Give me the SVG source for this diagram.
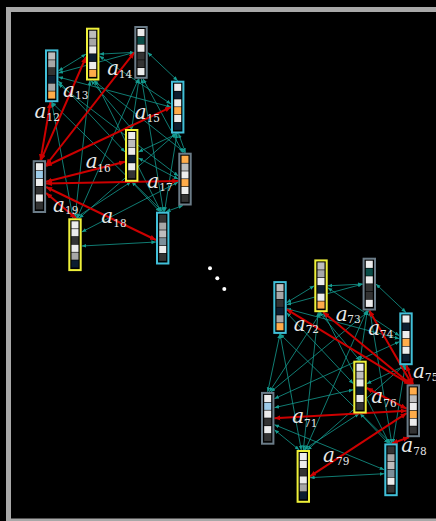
<svg xmlns="http://www.w3.org/2000/svg" xmlns:xlink="http://www.w3.org/1999/xlink" width="436" height="521" viewBox="0 0 436 521">
<style>
.bd{fill:#000;stroke-width:2}
.cy{stroke:#41bfd8}.yl{stroke:#eef03a}.gy{stroke:#6b7c88}
.W{fill:#ececec}.G1{fill:#bdbdbd}.G2{fill:#a7a7a7}.D{fill:#333333}.N{fill:#0c1d30}.O{fill:#ffac4a}.T{fill:#0a4d48}.LB{fill:#9ccbe9}.S{fill:#7b8f9a}
.te{stroke:#149a8f;stroke-width:0.8;fill:none;marker-start:url(#at);marker-end:url(#at)}
.re{stroke:#cc0000;stroke-width:2;fill:none;marker-start:url(#ar);marker-end:url(#ar)}
.lb{font-family:"DejaVu Serif","Liberation Serif",serif;fill:#e8e8e8}
.a{font-style:italic;font-size:20px}
.s{font-size:10.5px}
</style>
<defs>
<marker id="at" markerUnits="userSpaceOnUse" markerWidth="6" markerHeight="5" refX="4.6" refY="1.9" orient="auto-start-reverse"><path d="M0,0 L4.6,1.9 L0,3.8z" fill="#149a8f"/></marker>
<marker id="ar" markerUnits="userSpaceOnUse" markerWidth="8" markerHeight="7" refX="6" refY="2.6" orient="auto-start-reverse"><path d="M0,0 L6,2.6 L0,5.2z" fill="#cc0000"/></marker>
<g id="t1"><rect class="bd gy" x="1" y="1" width="11.4" height="50.8"/><rect class="W" x="3.2" y="3" width="7" height="7.2"/><rect class="LB" x="3.2" y="10.8" width="7" height="7.2"/><rect class="W" x="3.2" y="18.6" width="7" height="7.2"/><rect class="D" x="3.2" y="26.4" width="7" height="7.2"/><rect class="W" x="3.2" y="34.2" width="7" height="7.2"/><rect class="D" x="3.2" y="42" width="7" height="7.2"/></g>
<g id="t2"><rect class="bd cy" x="1" y="1" width="11.4" height="50.8"/><rect class="G1" x="3.2" y="3" width="7" height="7.2"/><rect class="G2" x="3.2" y="10.8" width="7" height="7.2"/><rect class="D" x="3.2" y="18.6" width="7" height="7.2"/><rect class="N" x="3.2" y="26.4" width="7" height="7.2"/><rect class="G2" x="3.2" y="34.2" width="7" height="7.2"/><rect class="O" x="3.2" y="42" width="7" height="7.2"/></g>
<g id="t3"><rect class="bd yl" x="1" y="1" width="11.4" height="50.8"/><rect class="G1" x="3.2" y="3" width="7" height="7.2"/><rect class="G2" x="3.2" y="10.8" width="7" height="7.2"/><rect class="W" x="3.2" y="18.6" width="7" height="7.2"/><rect class="N" x="3.2" y="26.4" width="7" height="7.2"/><rect class="W" x="3.2" y="34.2" width="7" height="7.2"/><rect class="O" x="3.2" y="42" width="7" height="7.2"/></g>
<g id="t4"><rect class="bd gy" x="1" y="1" width="11.4" height="50.8"/><rect class="W" x="3.2" y="3" width="7" height="7.2"/><rect class="T" x="3.2" y="10.8" width="7" height="7.2"/><rect class="W" x="3.2" y="18.6" width="7" height="7.2"/><rect class="D" x="3.2" y="26.4" width="7" height="7.2"/><rect class="D" x="3.2" y="34.2" width="7" height="7.2"/><rect class="W" x="3.2" y="42" width="7" height="7.2"/></g>
<g id="t5"><rect class="bd cy" x="1" y="1" width="11.4" height="50.8"/><rect class="W" x="3.2" y="3" width="7" height="7.2"/><rect class="N" x="3.2" y="10.8" width="7" height="7.2"/><rect class="W" x="3.2" y="18.6" width="7" height="7.2"/><rect class="O" x="3.2" y="26.4" width="7" height="7.2"/><rect class="W" x="3.2" y="34.2" width="7" height="7.2"/><rect class="N" x="3.2" y="42" width="7" height="7.2"/></g>
<g id="t6"><rect class="bd yl" x="1" y="1" width="11.4" height="50.8"/><rect class="W" x="3.2" y="3" width="7" height="7.2"/><rect class="G1" x="3.2" y="10.8" width="7" height="7.2"/><rect class="W" x="3.2" y="18.6" width="7" height="7.2"/><rect class="N" x="3.2" y="26.4" width="7" height="7.2"/><rect class="W" x="3.2" y="34.2" width="7" height="7.2"/><rect class="D" x="3.2" y="42" width="7" height="7.2"/></g>
<g id="t7"><rect class="bd gy" x="1" y="1" width="11.4" height="50.8"/><rect class="O" x="3.2" y="3" width="7" height="7.2"/><rect class="G1" x="3.2" y="10.8" width="7" height="7.2"/><rect class="W" x="3.2" y="18.6" width="7" height="7.2"/><rect class="O" x="3.2" y="26.4" width="7" height="7.2"/><rect class="W" x="3.2" y="34.2" width="7" height="7.2"/><rect class="D" x="3.2" y="42" width="7" height="7.2"/></g>
<g id="t8"><rect class="bd cy" x="1" y="1" width="11.4" height="50.8"/><rect class="D" x="3.2" y="3" width="7" height="7.2"/><rect class="G2" x="3.2" y="10.8" width="7" height="7.2"/><rect class="G1" x="3.2" y="18.6" width="7" height="7.2"/><rect class="S" x="3.2" y="26.4" width="7" height="7.2"/><rect class="W" x="3.2" y="34.2" width="7" height="7.2"/><rect class="D" x="3.2" y="42" width="7" height="7.2"/></g>
<g id="t9"><rect class="bd yl" x="1" y="1" width="11.4" height="50.8"/><rect class="W" x="3.2" y="3" width="7" height="7.2"/><rect class="W" x="3.2" y="10.8" width="7" height="7.2"/><rect class="D" x="3.2" y="18.6" width="7" height="7.2"/><rect class="W" x="3.2" y="26.4" width="7" height="7.2"/><rect class="G2" x="3.2" y="34.2" width="7" height="7.2"/><rect class="N" x="3.2" y="42" width="7" height="7.2"/></g>
</defs>
<rect x="0" y="0" width="436" height="521" fill="#000"/>
<rect x="8.5" y="9.5" width="440" height="511.5" fill="#000" stroke="#a8a8a8" stroke-width="5"/>
<g id="connectors">
<g id="cluster1-edges">
<path class="te" d="M58.4,71 L86,54.1"/>
<path class="te" d="M58.4,73 L134.3,52.4"/>
<path class="te" d="M58.4,77 L171,107.1"/>
<path class="te" d="M58.4,81 L125,152"/>
<path class="te" d="M58.4,84 L178.3,176"/>
<path class="te" d="M51.7,102.2 L162.7,211.7"/>
<path class="te" d="M51.7,102.2 L73,218.3"/>
<path class="te" d="M99.4,54.1 L134.3,52.4"/>
<path class="te" d="M99.4,56 L171,104"/>
<path class="te" d="M91,80.5 L131.7,129"/>
<path class="te" d="M93.5,80.5 L185,152.7"/>
<path class="te" d="M95,80.5 L161,211.7"/>
<path class="te" d="M90,80.5 L75,218.3"/>
<path class="te" d="M147.7,52.4 L177.7,80.7"/>
<path class="te" d="M139,78.8 L131.7,129"/>
<path class="te" d="M143,78.8 L183,152.7"/>
<path class="te" d="M141.5,78.8 L163.5,211.7"/>
<path class="te" d="M138.5,78.8 L77,218.3"/>
<path class="te" d="M177.7,133.5 L138.4,152"/>
<path class="te" d="M178.5,133.5 L185.5,152.7"/>
<path class="te" d="M177,133.5 L164.5,211.7"/>
<path class="te" d="M176,133.5 L79,218.3"/>
<path class="te" d="M138.4,158 L178.3,179.1"/>
<path class="te" d="M131.7,181.8 L160,211.7"/>
<path class="te" d="M131,181.8 L75,218.3"/>
<path class="te" d="M183,205.5 L166,211.7"/>
<path class="te" d="M178.3,182 L81.7,232"/>
<path class="te" d="M156,242 L81.7,246"/>
<path class="re" d="M40.5,160.2 L50.5,102.2"/>
<path class="re" d="M41,160.2 L86,57"/>
<path class="re" d="M46.1,165 L134.3,52.4"/>
<path class="re" d="M46.1,166 L171,107.1"/>
<path class="re" d="M46.1,181.7 L125,161.7"/>
<path class="re" d="M46.1,183.5 L178.3,181"/>
<path class="re" d="M46.1,187 L156,240"/>
<path class="re" d="M46.1,193 L76,218.3"/>
</g>
<g id="cluster2-edges" transform="translate(228.3,231.7)">
<path class="te" d="M58.4,71 L86,54.1"/>
<path class="te" d="M58.4,73 L134.3,52.4"/>
<path class="te" d="M58.4,77 L171,107.1"/>
<path class="te" d="M58.4,81 L125,152"/>
<path class="te" d="M51.7,102.2 L162.7,211.7"/>
<path class="te" d="M51.7,102.2 L73,218.3"/>
<path class="te" d="M99.4,54.1 L134.3,52.4"/>
<path class="te" d="M99.4,56 L171,104"/>
<path class="te" d="M91,80.5 L131.7,129"/>
<path class="te" d="M95,80.5 L161,211.7"/>
<path class="te" d="M90,80.5 L75,218.3"/>
<path class="te" d="M147.7,52.4 L177.7,80.7"/>
<path class="te" d="M139,78.8 L131.7,129"/>
<path class="te" d="M141.5,78.8 L163.5,211.7"/>
<path class="te" d="M138.5,78.8 L77,218.3"/>
<path class="te" d="M177.7,133.5 L138.4,152"/>
<path class="te" d="M177,133.5 L164.5,211.7"/>
<path class="te" d="M176,133.5 L79,218.3"/>
<path class="te" d="M131.7,181.8 L160,211.7"/>
<path class="te" d="M131,181.8 L75,218.3"/>
<path class="te" d="M156,242 L81.7,246"/>
<path class="te" d="M39.4,160.2 L51.7,102.2"/>
<path class="te" d="M41,160.2 L92.7,80.5"/>
<path class="te" d="M42.5,160.2 L141,78.8"/>
<path class="te" d="M46.1,167 L171,110"/>
<path class="te" d="M46.1,176 L125,158"/>
<path class="te" d="M46.1,193 L156,238.1"/>
<path class="te" d="M46.1,198 L71,218.3"/>
<path class="re" d="M178.3,179.1 L46.1,186.6"/>
<path class="re" d="M181.7,152.7 L58.4,77.6"/>
<path class="re" d="M182.7,152.7 L95,80.6"/>
<path class="re" d="M183.7,152.7 L141,78.8"/>
<path class="re" d="M184.7,152.7 L178.2,133.5"/>
<path class="re" d="M178.3,177 L138.4,156.3"/>
<path class="re" d="M180.7,205.5 L163.7,211.7"/>
<path class="re" d="M178.3,181.5 L81.7,244.7"/>
</g>
</g>
<g id="cluster1">
<g id="c1-n1" transform="translate(32.7,160.2)"><use xlink:href="#t1"/></g>
<g id="c1-n2" transform="translate(45,49.4)"><use xlink:href="#t2"/></g>
<g id="c1-n3" transform="translate(86,27.7)"><use xlink:href="#t3"/></g>
<g id="c1-n4" transform="translate(134.3,26)"><use xlink:href="#t4"/></g>
<g id="c1-n5" transform="translate(171,80.7)"><use xlink:href="#t5"/></g>
<g id="c1-n6" transform="translate(125,129)"><use xlink:href="#t6"/></g>
<g id="c1-n7" transform="translate(178.3,152.7)"><use xlink:href="#t7"/></g>
<g id="c1-n8" transform="translate(156,211.7)"><use xlink:href="#t8"/></g>
<g id="c1-n9" transform="translate(68.3,218.3)"><use xlink:href="#t9"/></g>
</g>
<g id="cluster2" transform="translate(228.3,231.7)">
<g id="c2-n1" transform="translate(32.7,160.2)"><use xlink:href="#t1"/></g>
<g id="c2-n2" transform="translate(45,49.4)"><use xlink:href="#t2"/></g>
<g id="c2-n3" transform="translate(86,27.7)"><use xlink:href="#t3"/></g>
<g id="c2-n4" transform="translate(134.3,26)"><use xlink:href="#t4"/></g>
<g id="c2-n5" transform="translate(171,80.7)"><use xlink:href="#t5"/></g>
<g id="c2-n6" transform="translate(125,129)"><use xlink:href="#t6"/></g>
<g id="c2-n7" transform="translate(178.3,152.7)"><use xlink:href="#t7"/></g>
<g id="c2-n8" transform="translate(156,211.7)"><use xlink:href="#t8"/></g>
<g id="c2-n9" transform="translate(68.3,218.3)"><use xlink:href="#t9"/></g>
</g>
<g id="labels" class="lb">
<text><tspan class="a" x="34.5" y="118">a</tspan><tspan class="s" x="46.5" y="120.5">12</tspan></text>
<text><tspan class="a" x="63" y="96.7">a</tspan><tspan class="s" x="75" y="99.3">13</tspan></text>
<text><tspan class="a" x="107.3" y="75">a</tspan><tspan class="s" x="118.8" y="78.3">14</tspan></text>
<text><tspan class="a" x="134.7" y="119.3">a</tspan><tspan class="s" x="146.7" y="121.7">15</tspan></text>
<text><tspan class="a" x="85.7" y="168.3">a</tspan><tspan class="s" x="97.3" y="171.7">16</tspan></text>
<text><tspan class="a" x="147.3" y="187.7">a</tspan><tspan class="s" x="159.3" y="190.7">17</tspan></text>
<text><tspan class="a" x="101.3" y="222.7">a</tspan><tspan class="s" x="113.3" y="226.7">18</tspan></text>
<text><tspan class="a" x="53" y="211.7">a</tspan><tspan class="s" x="65" y="214.3">19</tspan></text>
<text><tspan class="a" x="292.3" y="423.3">a</tspan><tspan class="s" x="304" y="426.7">71</tspan></text>
<text><tspan class="a" x="293.7" y="330.7">a</tspan><tspan class="s" x="305.7" y="333.3">72</tspan></text>
<text><tspan class="a" x="335.7" y="320.7">a</tspan><tspan class="s" x="347.3" y="323.3">73</tspan></text>
<text><tspan class="a" x="368.3" y="335">a</tspan><tspan class="s" x="380" y="338.3">74</tspan></text>
<text><tspan class="a" x="413" y="378.3">a</tspan><tspan class="s" x="425" y="381">75</tspan></text>
<text><tspan class="a" x="371.3" y="403.3">a</tspan><tspan class="s" x="383.3" y="406.7">76</tspan></text>
<text><tspan class="a" x="401.3" y="451.7">a</tspan><tspan class="s" x="413.3" y="455">78</tspan></text>
<text><tspan class="a" x="323" y="461.7">a</tspan><tspan class="s" x="336" y="465">79</tspan></text>
</g>
<g id="ellipsis" fill="#ffffff">
<circle cx="210" cy="268.3" r="2"/>
<circle cx="217.3" cy="278.3" r="2"/>
<circle cx="224.3" cy="289" r="2"/>
</g>
</svg>
